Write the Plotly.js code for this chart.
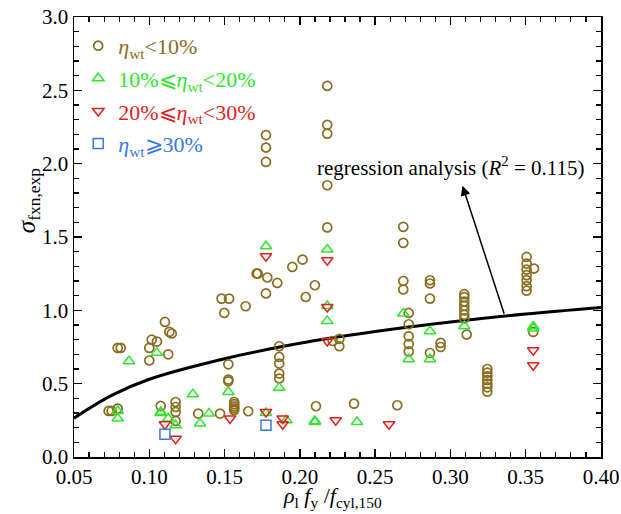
<!DOCTYPE html>
<html>
<head>
<meta charset="utf-8">
<script src="https://cdn.plot.ly/plotly-3.0.1.min.js"></script>
<style>html,body{margin:0;padding:0;background:#fff;}#chart{width:621px;height:514px;}</style>
</head>
<body>
<div id="chart"></div>
<script>
// ---- data ----
const circleX = [0.073,0.075,0.079,0.079,0.081,
  0.1016,0.1051,0.100,0.100,0.1126,0.1104,0.1133,0.1149,
  0.1076,0.1175,0.1175,0.1175,0.1175,
  0.1325,0.147,
  0.148,0.153,0.1498,0.164,0.172,
  0.1525,0.1525,0.1525,
  0.1564,0.1564,0.1564,0.1564,0.1564,
  0.1657,
  0.1775,0.1775,0.1775,
  0.1713,0.1784,0.185,0.1775,0.195,0.2018,0.2039,0.21,
  0.1863,0.1863,0.1863,0.1863,0.1863,
  0.2107,0.236,0.2647,
  0.2182,0.2182,0.2182,0.2182,0.2182,
  0.2218,0.2262,0.2262,
  0.2687,0.2687,0.2687,0.2687,
  0.2723,0.2723,0.2723,0.2723,0.2723,
  0.2864,0.2864,0.2864,0.2864,
  0.2935,0.2935,
  0.3092,0.3092,0.3092,0.3092,0.3092,0.3092,0.3092,0.3108,
  0.3245,0.3245,0.3245,0.3245,0.3245,0.3245,0.3245,
  0.3506,0.3506,0.3506,0.3506,0.3506,0.3506,0.3506,0.3555,
  0.355];
const circleY = [0.314,0.314,0.33,0.744,0.744,
  0.80,0.787,0.744,0.658,0.70,0.921,0.853,0.842,
  0.348,0.375,0.341,0.307,0.246,
  0.296,0.296,
  1.08,1.08,0.982,1.028,1.25,
  0.632,0.528,0.516,
  0.375,0.36,0.345,0.332,0.319,
  0.312,
  2.195,2.11,2.012,
  1.251,1.224,1.187,1.115,1.296,1.346,1.091,1.171,
  0.755,0.682,0.637,0.569,0.535,
  0.346,0.364,0.353,
  2.53,2.265,2.205,1.853,1.565,
  0.791,0.805,0.755,
  1.569,1.46,1.20,1.142,
  0.982,0.905,0.823,0.77,0.72,
  1.205,1.183,1.08,0.709,
  0.778,0.75,
  1.11,1.09,1.06,1.03,1.0,0.97,0.945,0.835,
  0.60,0.575,0.55,0.525,0.50,0.475,0.445,
  1.364,1.319,1.278,1.24,1.206,1.165,1.134,1.285,
  0.853];

const triUpX = [0.079,0.079,0.0865,0.105,0.1076,0.1076,0.1126,0.1175,0.129,0.1337,0.1396,0.1525,
  0.1775,0.1775,0.1863,0.191,0.21,0.21,0.2182,0.2182,0.2182,0.238,0.2687,0.2723,0.2864,0.2864,
  0.3092,0.355,0.355];
const triUpY = [0.314,0.262,0.653,0.71,0.307,0.30,0.262,0.216,0.428,0.228,0.296,0.443,
  1.437,0.30,0.473,0.25,0.239,0.245,1.415,1.03,0.928,0.239,0.978,0.666,0.857,0.666,
  0.892,0.876,0.89];

const triDownX = [0.1104,0.1175,0.1536,0.1775,0.1775,0.1886,0.1886,0.2182,0.2182,0.2182,0.2238,0.2592,0.355,0.355];
const triDownY = [0.223,0.125,0.262,1.369,0.307,0.223,0.262,1.342,1.023,0.791,0.25,0.223,0.728,0.626];

const squareX = [0.1104,0.1775];
const squareY = [0.155,0.216];

// regression curve
const regX = [0.05,0.075,0.10,0.15,0.20,0.25,0.30,0.35,0.40];
const regY = [0.265,0.42,0.53,0.67,0.775,0.855,0.92,0.975,1.02];

const xTicks = [0.05,0.10,0.15,0.20,0.25,0.30,0.35,0.40];
const yTicks = [0.0,0.5,1.0,1.5,2.0,2.5,3.0];

const cOlive = '#8a6d1e', cGreen = '#2ee62e', cRed = '#e61e1e', cBlue = '#3a78e6';
const serif = 'Liberation Serif';

const traces = [
  {x: regX, y: regY, type:'scatter', mode:'lines', line:{color:'#000', width:3, shape:'spline'}, showlegend:false},
  {x: circleX, y: circleY, type:'scatter', mode:'markers', legendgroup:'a',
   name:'<span style="color:'+cOlive+'"><i>η</i><sub>wt</sub>&lt;10%</span>',
   marker:{symbol:'circle-open', size:9, color:cOlive, line:{width:1.7, color:cOlive}}},
  {x: triUpX, y: triUpY, type:'scatter', mode:'markers', legendgroup:'b',
   name:'<span style="color:'+cGreen+'">10%⩽<i>η</i><sub>wt</sub>&lt;20%</span>',
   marker:{symbol:'triangle-up-open', size:10, color:cGreen, line:{width:1.5, color:cGreen}}},
  {x: triDownX, y: triDownY, type:'scatter', mode:'markers', legendgroup:'c',
   name:'<span style="color:'+cRed+'">20%⩽<i>η</i><sub>wt</sub>&lt;30%</span>',
   marker:{symbol:'triangle-down-open', size:10, color:cRed, line:{width:1.5, color:cRed}}},
  {x: squareX, y: squareY, type:'scatter', mode:'markers', legendgroup:'d',
   name:'<span style="color:'+cBlue+'"><i>η</i><sub>wt</sub>⩾30%</span>',
   marker:{symbol:'square-open', size:10, color:cBlue, line:{width:1.5, color:cBlue}}}
];

const axisCommon = {
  showgrid:false, zeroline:false, showline:true, linecolor:'#000', linewidth:1.5,
  mirror:'ticks', ticks:'inside', ticklen:8, tickwidth:1.3, tickcolor:'#000',
  tickfont:{family:serif, size:21, color:'#000'}
};

const layout = {
  width:621, height:514,
  margin:{l:74, r:20, t:17, b:57},
  paper_bgcolor:'#fff', plot_bgcolor:'#fff',
  font:{family:serif, color:'#000'},
  xaxis: Object.assign({}, axisCommon, {range:[0.05,0.40], tickvals:xTicks, tickformat:'.2f',
    minor:{ticks:'inside', dtick:0.01, tick0:0.05, ticklen:5, tickwidth:1.2, tickcolor:'#000'}}),
  yaxis: Object.assign({}, axisCommon, {range:[0,3.0], tickvals:yTicks, tickformat:'.1f',
    minor:{ticks:'inside', dtick:0.1, tick0:0, ticklen:5, tickwidth:1.2, tickcolor:'#000'}}),
  showlegend:true,
  legend:{x:0.008, y:0.982, xanchor:'left', yanchor:'top', bgcolor:'rgba(0,0,0,0)',
    font:{family:serif, size:22}, traceorder:'grouped', tracegroupgap:1},
  annotations:[
    {xref:'x', yref:'y', x:0.30, y:1.98, text:'regression analysis (<i>R</i><sup>2</sup> = 0.115)',
     showarrow:false, font:{family:serif, size:21, color:'#000'}},
    {xref:'x', yref:'y', x:0.308, y:1.85, axref:'x', ayref:'y', ax:0.336, ay:0.966, text:'',
     showarrow:true, arrowhead:2, arrowsize:1.3, arrowwidth:1.5, arrowcolor:'#000'},
    {xref:'paper', yref:'paper', x:-0.087, y:0.584, textangle:-90, xanchor:'center', yanchor:'middle',
     text:'<i>σ</i><sub>fxn,exp</sub>', showarrow:false, font:{family:serif, size:25, color:'#000'}},
    {xref:'paper', yref:'paper', x:0.49, y:-0.092, xanchor:'center', yanchor:'middle',
     text:'<i>ρ</i><sub>l</sub> <i>f</i><sub>y</sub> /<i>f</i><sub>cyl,150</sub>', showarrow:false,
     font:{family:serif, size:22, color:'#000'}}
  ]
};

Plotly.newPlot('chart', traces, layout, {staticPlot:true, displayModeBar:false});
</script>
</body>
</html>
